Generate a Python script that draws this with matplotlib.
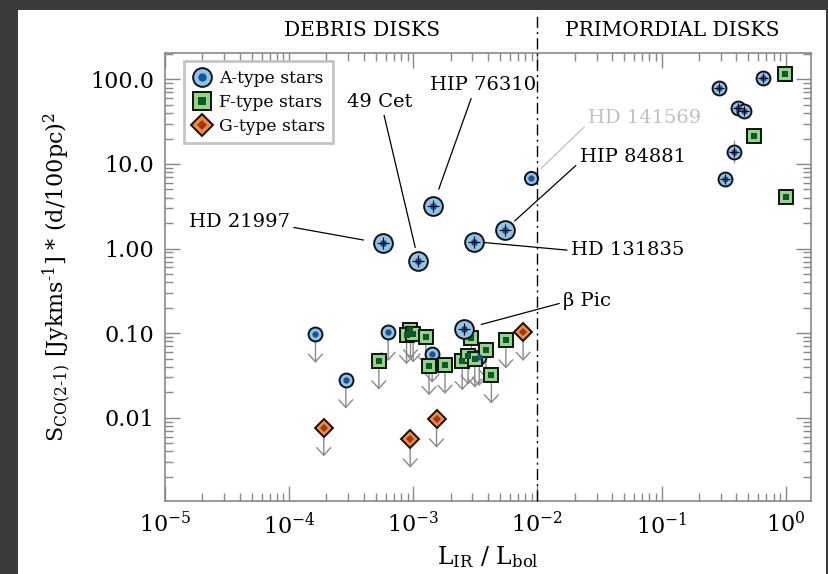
import matplotlib
matplotlib.use("Agg")
import matplotlib.pyplot as plt
import numpy as np
from matplotlib.lines import Line2D
from matplotlib.patches import Rectangle
from matplotlib.ticker import FixedLocator, FixedFormatter, LogLocator, NullFormatter

plt.rcParams['font.family'] = ['DejaVu Serif']
plt.rcParams['mathtext.fontset'] = 'dejavuserif'

# ---- data ----
# labelled A-type detections
lab_names = ['HD 21997', '49 Cet', 'HIP 76310', 'HD 131835', 'HIP 84881', 'β Pic', 'HD 141569']
lab_x = [5.66e-4, 1.10e-3, 1.44e-3, 3.09e-3, 5.50e-3, 2.57e-3, 8.95e-3]
lab_y = [1.15, 0.715, 3.23, 1.21, 1.68, 0.112, 6.87]
# label text positions (data coords)
txt_x = [1.01e-4, 5.38e-4, 3.66e-3, 1.87e-2, 2.19e-2, 1.62e-2, 0.0733]
txt_y = [2.05, 53.8, 84.9, 0.973, 12.2, 0.243, 35.2]

# primordial disks detections
prim_A_x = [0.289, 0.653, 0.416, 0.459, 0.384, 0.327]
prim_A_y = [79.8, 102.7, 45.7, 42.2, 13.9, 6.73]
prim_F_x = [0.98, 0.556, 1.0]
prim_F_y = [116.7, 21.3, 4.05]

# upper limits
ul_A_x = [1.63e-4, 6.28e-4, 2.86e-4, 1.42e-3, 3.40e-3]
ul_A_y = [0.0977, 0.103, 0.0282, 0.0571, 0.0522]
ul_F_x = [5.28e-4, 9.5e-4, 8.83e-4, 9.97e-4, 1.26e-3, 1.34e-3, 1.80e-3, 2.48e-3,
          2.77e-3, 3.13e-3, 3.85e-3, 4.26e-3, 2.94e-3, 5.57e-3]
ul_F_y = [0.0473, 0.110, 0.0942, 0.0986, 0.0902, 0.0405, 0.042, 0.0464,
          0.0542, 0.0499, 0.0638, 0.0323, 0.0877, 0.0838]
ul_G_x = [1.90e-4, 9.44e-4, 1.54e-3, 7.67e-3]
ul_G_y = [0.00767, 0.00564, 0.00973, 0.103]

y_ticks = [0.01, 0.1, 1, 10, 100]
y_ticklabels = ['0.01', '0.10', '1.00', '10.0', '100.0']
x_ticks = [1e-5, 1e-4, 1e-3, 1e-2, 1e-1, 1e0]
x_ticklabels = ['$10^{-5}$', '$10^{-4}$', '$10^{-3}$', '$10^{-2}$', '$10^{-1}$', '$10^{0}$']

# ---- style ----
A_fill, A_in = '#8cc4ea', '#1553a0'
F_fill, F_in = '#92d684', '#0b5a2a'
G_fill, G_in = '#f28a3a', '#a5360c'
arrow_col = '#8a8a8a'

fig = plt.figure(figsize=(8.29, 5.74), dpi=100)
fig.patch.set_facecolor('#3b3b3b')
bg = Rectangle((18/829, 0), (826-18)/829, (574-10)/574,
               transform=fig.transFigure, facecolor='white', edgecolor='none', zorder=-10)
fig.add_artist(bg)
ax = fig.add_axes([165/829, 1-501/574, (811-165)/829, (501-53)/574])
ax.set_zorder(1)
ax.set_facecolor('white')
ax.set_xscale('log')
ax.set_yscale('log')
ax.set_xlim(1e-5, 1.6)
ax.set_ylim(1.04e-3, 205)

# upper-limit arrows
arr_fac = 10**(-0.34)
for xs, ys in [(ul_A_x, ul_A_y), (ul_F_x, ul_F_y), (ul_G_x, ul_G_y)]:
    for x, y in zip(xs, ys):
        ax.annotate('', xy=(x, y*arr_fac), xytext=(x, y),
                    arrowprops=dict(arrowstyle='->,head_length=0.55,head_width=0.5',
                                    color=arrow_col, lw=1.0, shrinkA=0, shrinkB=0),
                    zorder=2)

def draw(xs, ys, mk, fill, inner, size, insize, z=4, cross=False):
    ax.plot(xs, ys, ls='none', marker=mk, ms=size, mfc=fill, mec='#111111', mew=1.4, zorder=z)
    ax.plot(xs, ys, ls='none', marker=mk, ms=insize, mfc=inner, mec=inner, mew=0, zorder=z+0.1)
    if cross:
        ax.plot(xs, ys, ls='none', marker='+', ms=insize*1.6, mec='k', mew=0.8, zorder=z+0.2)

draw(ul_A_x, ul_A_y, 'o', A_fill, A_in, 10, 4.5)
draw(ul_F_x, ul_F_y, 's', F_fill, F_in, 10, 4.2)
draw(ul_G_x, ul_G_y, 'D', G_fill, G_in, 9, 4.2)

# primordial
ax.errorbar([prim_A_x[4]], [prim_A_y[4]], yerr=[[prim_A_y[4]*0.27], [prim_A_y[4]*0.37]],
            fmt='none', ecolor='#999999', elinewidth=1, zorder=3)
draw(prim_A_x, prim_A_y, 'o', A_fill, A_in, 10, 4.5, cross=True)
draw(prim_F_x, prim_F_y, 's', F_fill, F_in, 10, 4.2)

# labelled detections
big = [13.5, 13.5, 13.5, 13.5, 13.5, 13.5, 9.5]
for i in range(len(lab_x)):
    draw([lab_x[i]], [lab_y[i]], 'o', A_fill, A_in, big[i], 5 if big[i] > 10 else 4.5,
         z=5, cross=big[i] > 10)

# annotations
ha = ['right', 'center', 'center', 'left', 'left', 'left', 'center']
relpos = [(1.0, 0.25), (0.55, 0.0), (0.4, 0.0), (0.0, 0.45), (0.0, 0.2), (0.0, 0.4), (0.0, 0.2)]
shrinkB = [14, 10, 12.5, 7.7, 9.2, 12.7, 9.6]
lcol = ['k', 'k', 'k', 'k', 'k', 'k', '#c0c0c0']
for i, name in enumerate(lab_names):
    ax.annotate(name, xy=(lab_x[i], lab_y[i]), xytext=(txt_x[i], txt_y[i]),
                ha=ha[i], va='center', fontsize=14, color=lcol[i],
                arrowprops=dict(arrowstyle='-', color=lcol[i], lw=0.9,
                                shrinkA=1, shrinkB=shrinkB[i], relpos=relpos[i]),
                zorder=6)

# dividing line
ax.axvline(1e-2, ymin=0, ymax=1.092, color='k', lw=1.0, ls=(0, (8, 3, 1.5, 3)),
           clip_on=False, zorder=7)
fig.text(362/829, 1-31/574, 'DEBRIS DISKS', ha='center', va='center', fontsize=14.5)
fig.text(672/829, 1-31/574, 'PRIMORDIAL DISKS', ha='center', va='center', fontsize=14.5)

# axes styling
for s in ax.spines.values():
    s.set_color('#888888')
    s.set_linewidth(1.2)
ax.xaxis.set_major_locator(FixedLocator(x_ticks))
ax.xaxis.set_major_formatter(FixedFormatter(x_ticklabels))
ax.xaxis.set_minor_locator(LogLocator(base=10, subs=np.arange(2, 10)))
ax.xaxis.set_minor_formatter(NullFormatter())
ax.yaxis.set_major_locator(FixedLocator(y_ticks))
ax.yaxis.set_major_formatter(FixedFormatter(y_ticklabels))
ax.yaxis.set_minor_locator(LogLocator(base=10, subs=np.arange(2, 10)))
ax.yaxis.set_minor_formatter(NullFormatter())
ax.tick_params(which='both', direction='in', top=True, right=True, color='#888888',
               labelsize=16, pad=8)
ax.tick_params(which='major', length=11, width=1)
ax.tick_params(which='minor', length=6, width=1)

ax.set_xlabel(r'L$_{\rm IR}$ / L$_{\rm bol}$', fontsize=17, labelpad=4)
ax.set_ylabel(r'S$_{\rm CO(2\text{-}1)}$ [Jykms$^{\rm \text{-}1}$] * (d/100pc)$^{2}$', fontsize=16, labelpad=12)

# legend
def handle(mk, fill, inner, size, insize):
    o = Line2D([], [], ls='none', marker=mk, ms=size, mfc=fill, mec='#111111', mew=1.4)
    i = Line2D([], [], ls='none', marker=mk, ms=insize, mfc=inner, mec=inner, mew=0)
    return (o, i)

hs = [handle('o', A_fill, A_in, 13.5, 6), handle('s', F_fill, F_in, 12.5, 6), handle('D', G_fill, G_in, 11.5, 5.5)]
leg = ax.legend(hs, ['A-type stars', 'F-type stars', 'G-type stars'], loc='upper left',
                bbox_to_anchor=(0.029, 0.982), borderaxespad=0, fontsize=12.3,
                fancybox=False, framealpha=1, handlelength=1.1, handletextpad=0.45,
                labelspacing=0.42, borderpad=0.5)
leg.get_frame().set_edgecolor('#c4c4c4')
leg.get_frame().set_linewidth(2)

fig.savefig('out.png', dpi=100, facecolor=fig.get_facecolor())
